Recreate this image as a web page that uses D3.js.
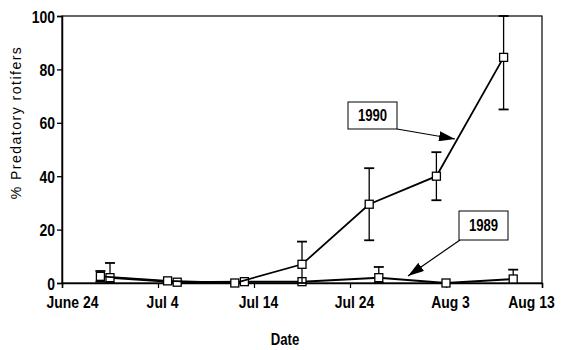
<!DOCTYPE html>
<html>
<head>
<meta charset="utf-8">
<script src="https://cdn.jsdelivr.net/npm/d3@7"></script>
<style>
  html, body { margin: 0; padding: 0; background: #fff; }
  svg { display: block; }
  .tick-label { font-family: "Liberation Sans Narrow", "Arial Narrow", "Liberation Sans", Arial, sans-serif; font-weight: bold; font-size: 17px; fill: #000; }
</style>
</head>
<body>
<svg id="chart" width="565" height="350"></svg>
<script>
// Sampling dates (month-day) and percentages of predatory rotifers
const dates1990 = ["06-28", "07-05", "07-12", "07-19", "07-26", "08-02", "08-09"];
const pct1990   = [2.5, 0.8, 0, 7, 29.5, 40, 84.5];
const upper1990 = [4.5, 1.2, 0.4, 15.5, 43, 49, 100];
const lower1990 = [0.5, 0.4, 0, 0, 16, 31, 65];

const dates1989 = ["06-29", "07-06", "07-13", "07-19", "07-27", "08-03", "08-10"];
const pct1989   = [2, 0.3, 0.5, 0.5, 2, 0, 1.5];
const upper1989 = [7.5, 0.6, 0.8, 0.8, 6, 0.3, 5];
const lower1989 = [0, 0, 0.2, 0.2, 0, 0, 0];

const tickDates  = ["06-24", "07-04", "07-14", "07-24", "08-03", "08-13"];
const tickLabels = ["June 24", "Jul 4", "Jul 14", "Jul 24", "Aug 3", "Aug 13"];
const yTicks = [0, 20, 40, 60, 80, 100];

const parse = s => new Date(1990, +s.slice(0, 2) - 1, +s.slice(3, 5));

// squeeze bold labels into a narrow face
function narrow(sel, k) {
  sel.each(function () {
    const len = this.getComputedTextLength();
    d3.select(this).attr("textLength", len * k).attr("lengthAdjust", "spacingAndGlyphs");
  });
}

const svg = d3.select("#chart");
const plotL = 62, plotR = 542, plotT = 16, plotB = 283;

const x = d3.scaleTime().domain([parse("06-24"), parse("08-13")]).range([plotL, plotR]);
const y = d3.scaleLinear().domain([0, 100]).range([plotB, plotT]);

// frame
svg.append("rect")
  .attr("x", plotL).attr("y", plotT)
  .attr("width", plotR - plotL).attr("height", plotB - plotT)
  .attr("fill", "none").attr("stroke", "#000").attr("stroke-width", 1.2);

// y axis
const yAxis = svg.append("g")
  .attr("transform", `translate(${plotL},0)`)
  .call(d3.axisLeft(y).tickValues(yTicks).tickSize(5).tickPadding(2));
yAxis.select(".domain").attr("stroke-width", 1.5);
yAxis.selectAll("line").attr("stroke-width", 1.3);
yAxis.selectAll("text").attr("class", "tick-label").attr("dy", "0.36em").call(narrow, 0.82);

// x axis
const xAxis = svg.append("g")
  .attr("transform", `translate(0,${plotB})`)
  .call(d3.axisBottom(x)
    .tickValues(tickDates.map(parse))
    .tickFormat((d, i) => tickLabels[i])
    .tickSize(5).tickPadding(6));
xAxis.select(".domain").attr("stroke-width", 1.5);
xAxis.selectAll("line").attr("stroke-width", 1.2);
xAxis.selectAll("text").attr("class", "tick-label").attr("dy", "0.8em")
  .attr("dx", (d, i) => i === 0 ? 10 : (i === tickLabels.length - 1 ? -11 : 4))
  .call(narrow, 0.82);

// axis titles
svg.append("text")
  .attr("transform", `translate(21,${(plotT + plotB) / 2 - 27}) rotate(-90)`)
  .attr("text-anchor", "middle")
  .style("font-family", "'Liberation Sans', Arial, sans-serif")
  .style("font-size", "14px")
  .style("letter-spacing", "1.5px")
  .text("% Predatory rotifers");

svg.append("text")
  .attr("x", 285).attr("y", 345)
  .attr("text-anchor", "middle")
  .attr("class", "tick-label")
  .style("font-size", "16px")
  .text("Date")
  .call(narrow, 0.82);

function drawSeries(dates, vals, hi, lo, width) {
  const pts = dates.map((d, i) => ({ x: x(parse(d)), v: vals[i], hi: hi[i], lo: lo[i] }));
  const g = svg.append("g");
  // error bars
  pts.forEach(p => {
    if (p.hi - p.v > 1.5) {
      g.append("line").attr("x1", p.x).attr("x2", p.x).attr("y1", y(p.hi)).attr("y2", y(p.v))
        .attr("stroke", "#000").attr("stroke-width", 1.3);
      g.append("line").attr("x1", p.x - 5).attr("x2", p.x + 5).attr("y1", y(p.hi)).attr("y2", y(p.hi))
        .attr("stroke", "#000").attr("stroke-width", 1.8);
    }
    if (p.v - p.lo > 1.5) {
      g.append("line").attr("x1", p.x).attr("x2", p.x).attr("y1", y(p.v)).attr("y2", y(p.lo))
        .attr("stroke", "#000").attr("stroke-width", 1.3);
      g.append("line").attr("x1", p.x - 5).attr("x2", p.x + 5).attr("y1", y(p.lo)).attr("y2", y(p.lo))
        .attr("stroke", "#000").attr("stroke-width", 1.8);
    }
  });
  g.append("path")
    .datum(pts)
    .attr("d", d3.line().x(p => p.x).y(p => y(p.v)))
    .attr("fill", "none").attr("stroke", "#000").attr("stroke-width", width);
  g.selectAll("rect.pt").data(pts).enter().append("rect")
    .attr("x", p => p.x - 4).attr("y", p => y(p.v) - 4)
    .attr("width", 8).attr("height", 8)
    .attr("fill", "#fff").attr("stroke", "#000").attr("stroke-width", 1.3);
}

drawSeries(dates1989, pct1989, upper1989, lower1989, 2);
drawSeries(dates1990, pct1990, upper1990, lower1990, 1.8);

// arrowhead marker
svg.append("defs").append("marker")
  .attr("id", "head").attr("viewBox", "0 0 16 10")
  .attr("refX", 16).attr("refY", 5)
  .attr("markerWidth", 16).attr("markerHeight", 10)
  .attr("markerUnits", "userSpaceOnUse")
  .attr("orient", "auto")
  .append("path").attr("d", "M0,0 L16,5 L0,10 Z").attr("fill", "#000");

// series labels with arrows
const notes = [
  { label: "1990", box: [348, 102, 49, 27], from: [397, 129], to: [455, 139] },
  { label: "1989", box: [459, 211, 49, 29], from: [460, 240], to: [408, 276] }
];
notes.forEach(n => {
  const [bx, by, bw, bh] = n.box;
  svg.append("line")
    .attr("x1", n.from[0]).attr("y1", n.from[1]).attr("x2", n.to[0]).attr("y2", n.to[1])
    .attr("stroke", "#000").attr("stroke-width", 1.2).attr("marker-end", "url(#head)");
  svg.append("rect").attr("x", bx).attr("y", by).attr("width", bw).attr("height", bh)
    .attr("fill", "#fff").attr("stroke", "#000").attr("stroke-width", 1);
  svg.append("text").attr("x", bx + bw / 2).attr("y", by + bh / 2).attr("dy", "0.36em")
    .attr("text-anchor", "middle").attr("class", "tick-label").style("font-size", "16px")
    .text(n.label)
    .call(narrow, 0.82);
});
</script>
</body>
</html>
